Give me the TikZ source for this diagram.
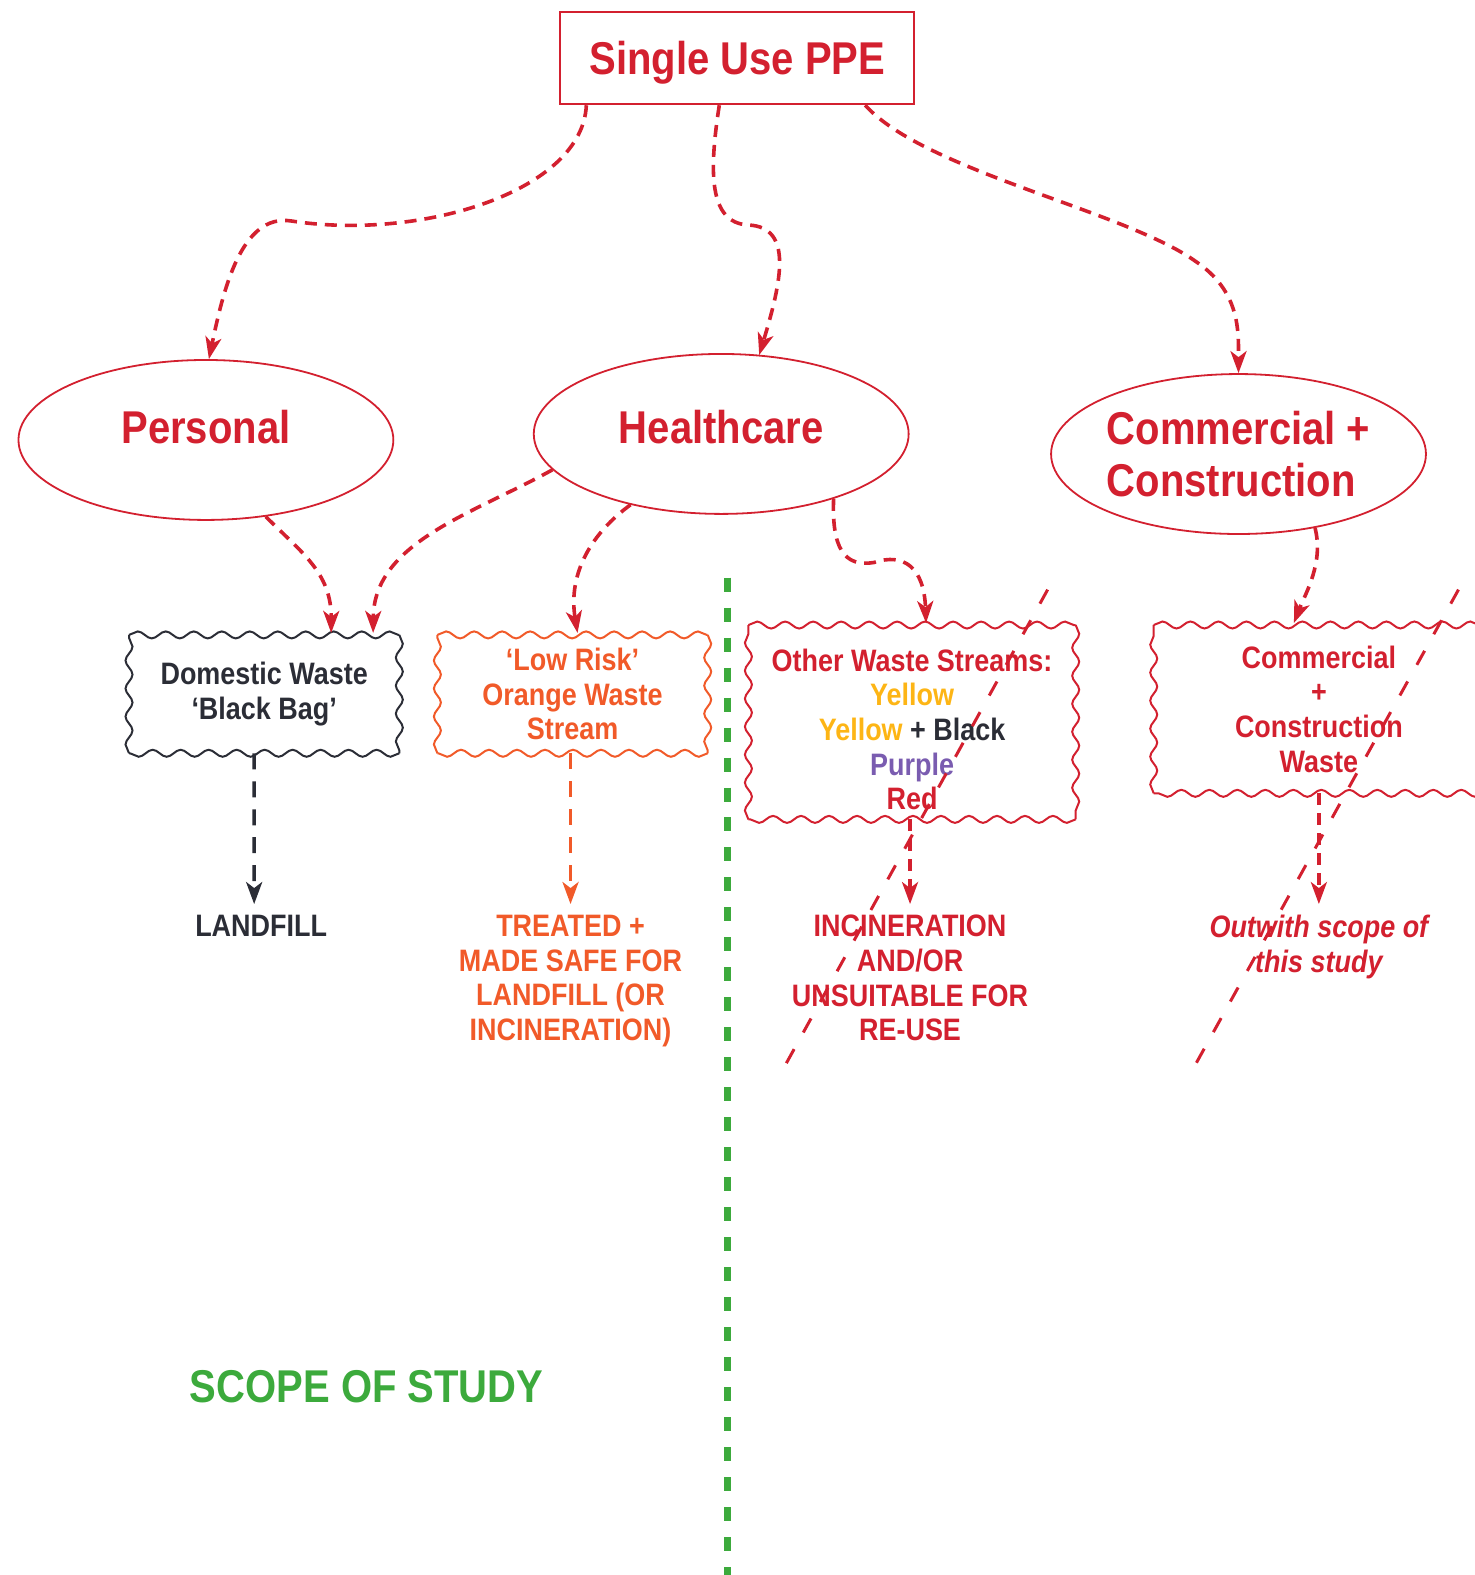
\documentclass[tikz,border=0pt]{standalone}
\usepackage{fontspec}
\setmainfont{Liberation Sans}[FakeStretch=0.87]
\usetikzlibrary{arrows.meta,shapes.geometric,decorations.pathmorphing,calc}
\definecolor{ppered}{HTML}{D3202F}
\definecolor{ppeorange}{HTML}{F15A29}
\definecolor{ppeyellow}{HTML}{FDB515}
\definecolor{ppepurple}{HTML}{7A5CB0}
\definecolor{ppedark}{HTML}{2B2D36}
\definecolor{ppegreen}{HTML}{3CAA3C}
\newcommand\catfont{\fontsize{46}{52}\selectfont\bfseries}
\newcommand\boxfont{\fontsize{31}{34.7}\selectfont\bfseries}
\newcommand\scopefont{\fontsize{46}{52}\selectfont\bfseries}
% wavy outline, one side at a time
\newcommand\wavybox[2]{%
  \foreach \a/\b in {north west/north east,north east/south east,
                     south east/south west,south west/north west}
    \draw[wave,draw=#2] (#1.\a) -- (#1.\b);}
\tikzset{
  >={Stealth[length=22pt,width=16pt,inset=6pt]},
  % boxes
  ppebox/.style={draw=ppered,line width=2pt,minimum width=354pt,minimum height=92pt,
                 inner sep=0pt,text=ppered,font=\catfont,text depth=0pt},
  cat/.style={ellipse,draw=ppered,line width=1.8pt,minimum width=375pt,minimum height=160pt,
              inner sep=0pt,text=ppered,font=\catfont,align=left},
  bag/.style={minimum width=270pt,minimum height=118pt,inner sep=0pt,align=center,
              font=\boxfont},
  wave/.style={line width=2pt,decorate,
               decoration={snake,segment length=28pt,amplitude=3.5pt}},
  fate/.style={anchor=north,inner sep=0pt,align=center,font=\boxfont},
  % lines
  rarr/.style={->,draw=ppered,line width=3.6pt,dash pattern=on 12pt off 8pt},
  karr/.style={->,draw=ppedark,line width=3.6pt,dash pattern=on 16pt off 12pt},
  oarr/.style={->,draw=ppeorange,line width=3.6pt,dash pattern=on 16pt off 12pt},
  scopeline/.style={draw=ppegreen,line width=7pt,dash pattern=on 14pt off 16pt},
  cross/.style={draw=ppered,line width=3pt,dash pattern=on 16pt off 19pt},
}
\begin{document}
\begin{tikzpicture}[x=1.0048pt,y=-1.0048pt]
  \useasboundingbox (0,0) rectangle (1468,1568);
  \node[ppebox] (ppe) at (734,58) {Single Use PPE};

  \node[cat,text depth=26.5pt] (pers) at (205,438) {Personal};
  \node[cat,text depth=14.5pt] (hc) at (718,432) {Healthcare};
  \node[cat] (com) at (1233,452) {Commercial +\\Construction};

  \node[bag,text=ppedark] (dom) at (263,691) {Domestic Waste\\‘Black Bag’};
  \node[bag,text=ppeorange] (ora) at (570,691) {‘Low Risk’\\Orange Waste\\Stream};
  \node[bag,text=ppered,minimum width=327pt,minimum height=194pt]
    (oth) at (908,719) {\rule{0pt}{37pt}Other Waste Streams:\\\textcolor{ppeyellow}{Yellow}\\
      \textcolor{ppeyellow}{Yellow} \textcolor{ppedark}{+ Black}\\
      \textcolor{ppepurple}{Purple}\\Red};
  \node[bag,text=ppered,minimum width=330pt,minimum height=168pt]
    (cbox) at (1313,706) {Commercial\\+\\Construction\\Waste};
  \wavybox{dom}{ppedark}
  \wavybox{ora}{ppeorange}
  \wavybox{oth}{ppered}
  \wavybox{cbox}{ppered}

  \node[fate,text=ppedark] (lf) at (260,911) {LANDFILL};
  \node[fate,text=ppeorange] (treat) at (568,911)
    {TREATED +\\MADE SAFE FOR\\LANDFILL (OR\\INCINERATION)};
  \node[fate,text=ppered] (inc) at (906,911)
    {INCINERATION\\AND/OR\\UNSUITABLE FOR\\RE-USE};
  \node[fate,text=ppered,font=\boxfont\itshape] (outw) at (1313,911)
    {Outwith scope of\\this study};

  \node[text=ppegreen,font=\scopefont] (scope) at (365,1380) {SCOPE OF STUDY};

  % from the top
  \draw[rarr] ([xshift=-151pt]ppe.south) .. controls (580,190) and (420,240) .. (290,220)
    .. controls (240,212) and (222,290) .. ([xshift=3pt]pers.north);
  \draw[rarr] ([xshift=-18pt]ppe.south) .. controls (706,170) and (705,222) .. (745,224)
    .. controls (790,226) and (778,280) .. ([xshift=38pt,yshift=-2pt]hc.north);
  \draw[rarr] ([xshift=128pt]ppe.south) .. controls (920,170) and (1120,210) .. (1190,260)
    .. controls (1235,290) and (1233,330) .. (com.north);

  % to the bags
  \draw[rarr] (pers.-52) .. controls (300,550) and (330,570) .. ([xshift=67pt,yshift=2pt]dom.north);
  \draw[rarr] (hc.192) .. controls (470,512) and (372,540) .. ([xshift=109pt,yshift=2pt]dom.north);
  \draw[rarr] (hc.-142) .. controls (590,530) and (565,570) .. ([xshift=5pt,yshift=2pt]ora.north);
  \draw[rarr] (hc.-30) .. controls (828,545) and (840,565) .. (870,560)
    .. controls (900,550) and (920,565) .. ([xshift=14pt,yshift=2pt]oth.north);
  \draw[rarr] (com.-44) .. controls (1318,560) and (1300,590) .. ([xshift=-25pt,yshift=2pt]cbox.north);

  % to the ends
  \draw[karr] ([xshift=-10pt]dom.south) -- ([xshift=-7pt,yshift=11pt]lf.north);
  \draw[oarr] (ora.south -| treat.north) -- ([yshift=11pt]treat.north);
  \draw[rarr] (oth.south -| inc.north) -- ([yshift=11pt]inc.north);
  \draw[rarr] (cbox.south -| outw.north) -- ([yshift=11pt]outw.north);

  % scope and crossing out
  \draw[scopeline] (724,575) -- (724,1568);
  \draw[cross] (1043,587) -- (782,1060);
  \draw[cross] (1452,587) -- (1190,1060);
\end{tikzpicture}
\end{document}
